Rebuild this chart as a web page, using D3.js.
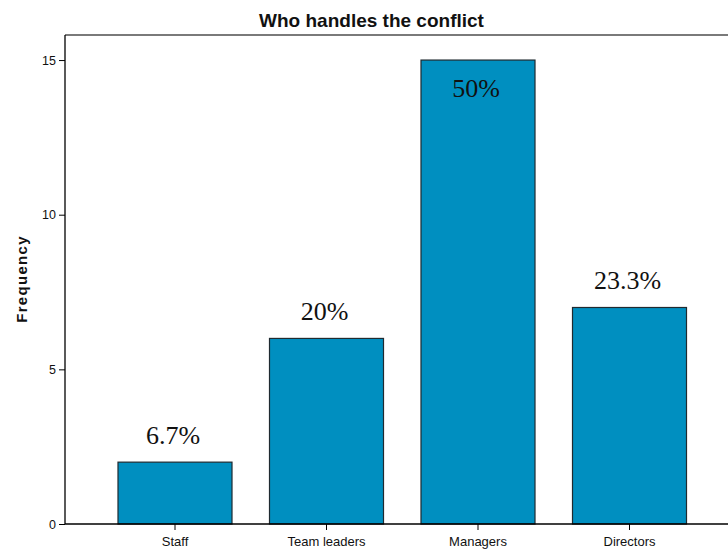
<!DOCTYPE html>
<html><head><meta charset="utf-8">
<script src="https://cdn.jsdelivr.net/npm/d3@7"></script>
<style>body{margin:0;background:#fff}svg{display:block}</style>
</head><body>
<script>
const categories = ["Staff", "Team leaders", "Managers", "Directors"];
const frequencies = [2, 6, 15, 7];
const percentLabels = ["6.7%", "20%", "50%", "23.3%"];
const yTicks = [0, 5, 10, 15];
const titleText = "Who handles the conflict";
const yAxisTitle = "Frequency";

const W = 728, H = 552;
const svg = d3.select("body").append("svg").attr("width", W).attr("height", H);

const plotLeft = 65, plotTop = 35, plotBottom = 524, plotRight = 740;

const x = d3.scaleBand().domain(categories).range([99.25, 705.25])
  .paddingInner(0.2475).paddingOuter(0.12375);
const y = d3.scaleLinear().domain([0, 15.81]).range([plotBottom, plotTop]);

// frame top
svg.append("line").attr("x1", plotLeft).attr("x2", plotRight).attr("y1", plotTop).attr("y2", plotTop)
  .attr("stroke", "#7a7a7a").attr("stroke-width", 2);

// bars
svg.selectAll("rect.bar").data(categories).enter().append("rect")
  .attr("x", d => x(d)).attr("width", x.bandwidth())
  .attr("y", (d, i) => y(frequencies[i]))
  .attr("height", (d, i) => y(0) - y(frequencies[i]))
  .attr("fill", "#008fc0").attr("stroke", "#1f2a30").attr("stroke-width", 1.2);

// y axis
const yAxis = svg.append("g").attr("transform", `translate(${plotLeft},0)`)
  .call(d3.axisLeft(y).tickValues(yTicks).tickSize(6).tickPadding(3).tickFormat(d3.format("d")));
yAxis.select(".domain").attr("d", `M0,${plotTop}V${plotBottom}`).attr("stroke", "#000").attr("stroke-width", 1.3);
yAxis.selectAll(".tick line").attr("stroke", "#000");
yAxis.selectAll("text").attr("font-family", "Liberation Sans, Arial, sans-serif").attr("font-size", 12.5).attr("fill", "#111");

// x axis
const xAxis = svg.append("g").attr("transform", `translate(0,${plotBottom})`)
  .call(d3.axisBottom(x).tickSize(6).tickPadding(7));
xAxis.select(".domain").attr("d", `M${plotLeft},0H${plotRight}`).attr("stroke", "#000").attr("stroke-width", 1.3);
xAxis.selectAll(".tick line").attr("stroke", "#000");
xAxis.selectAll("text").attr("font-family", "Liberation Sans, Arial, sans-serif").attr("font-size", 13).attr("fill", "#111");

// title
svg.append("text").attr("x", 371.5).attr("y", 27).attr("text-anchor", "middle")
  .attr("font-family", "Liberation Sans, Arial, sans-serif").attr("font-weight", "bold").attr("font-size", 19)
  .attr("fill", "#111").text(titleText);

// y axis title
svg.append("text").attr("transform", "translate(27,279) rotate(-90)").attr("text-anchor", "middle")
  .attr("font-family", "Liberation Sans, Arial, sans-serif").attr("font-weight", "bold").attr("font-size", 15)
  .attr("letter-spacing", 1.3).attr("fill", "#111").text(yAxisTitle);

// percentage labels
const maxF = d3.max(frequencies);
svg.selectAll("text.pct").data(categories).enter().append("text")
  .attr("x", d => x(d) + x.bandwidth() / 2 - 2)
  .attr("y", (d, i) => frequencies[i] === maxF ? y(frequencies[i]) + 37 : y(frequencies[i]) - 18)
  .attr("text-anchor", "middle")
  .attr("font-family", "Liberation Serif, Times New Roman, serif").attr("font-size", 26)
  .attr("fill", "#111").text((d, i) => percentLabels[i]);
</script>
</body></html>
